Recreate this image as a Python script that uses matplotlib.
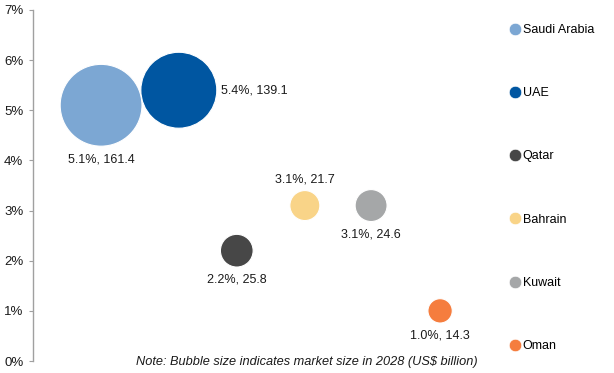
import matplotlib.pyplot as plt

plt.rcParams['font.family'] = ['Liberation Sans', 'DejaVu Sans']

# data
countries = ['Saudi Arabia', 'UAE', 'Qatar', 'Bahrain', 'Kuwait', 'Oman']
growth = [5.1, 5.4, 2.2, 3.1, 3.1, 1.0]          # %
market = [161.4, 139.1, 25.8, 21.7, 24.6, 14.3]  # US$ billion, 2028
x_pos = [1.48, 3.17, 4.43, 5.91, 7.35, 8.85]     # hidden x axis
colors = ['#7CA7D3', '#0056A1', '#474747', '#F9D488', '#A5A7A8', '#F57D3E']
label_pos = ['below', 'right', 'below', 'above', 'below', 'below']
y_ticks = [0, 1, 2, 3, 4, 5, 6, 7]

fig = plt.figure(figsize=(6.14, 3.73), dpi=100)
ax = fig.add_axes([33 / 614, 12 / 373, 460 / 614, 351 / 373])

sizes = [21.5 * m for m in market]
ax.scatter(x_pos, growth, s=sizes, c=colors, edgecolors='white', linewidths=0.8, zorder=3)

for x, y, m, pos in zip(x_pos, growth, market, label_pos):
    txt = f'{y:.1f}%, {m:.1f}'
    r = 3.22 * m ** 0.5 * 0.72  # bubble radius in points
    if pos == 'below':
        ax.annotate(txt, (x, y), xytext=(0, -r - 5), textcoords='offset points',
                    ha='center', va='top', fontsize=9, color='#1a1a1a')
    elif pos == 'above':
        ax.annotate(txt, (x, y), xytext=(0, r + 4), textcoords='offset points',
                    ha='center', va='bottom', fontsize=9, color='#1a1a1a')
    else:
        ax.annotate(txt, (x, y), xytext=(r + 3, 0), textcoords='offset points',
                    ha='left', va='center', fontsize=9, color='#1a1a1a')

ax.set_xlim(0, 10)
ax.set_ylim(0, 7)
ax.set_yticks(y_ticks)
ax.set_yticklabels([f'{t}%' for t in y_ticks], fontsize=9.5, color='#1a1a1a')
ax.tick_params(axis='y', length=3, width=0.8, color='#A0A0A0', pad=4)
ax.set_xticks([])
for side in ['top', 'right', 'bottom']:
    ax.spines[side].set_visible(False)
ax.spines['left'].set_color('#A0A0A0')
ax.spines['left'].set_linewidth(1)

fig.text(478 / 614, 1 - 362 / 373, 'Note: Bubble size indicates market size in 2028 (US$ billion)',
         ha='right', va='center', fontsize=9.2, style='italic', color='#1a1a1a')

# legend on the right
handles = [plt.Line2D([], [], marker='o', linestyle='', markersize=9,
                      markerfacecolor=c, markeredgecolor='white', markeredgewidth=0.5)
           for c in colors]
fig.legend(handles, countries, loc='upper left', bbox_to_anchor=(502 / 614, 1 - 19 / 373),
           frameon=False, fontsize=9, handletextpad=0.05, labelspacing=4.1,
           handlelength=1.2, borderaxespad=0)

fig.savefig('out.png', dpi=100)
